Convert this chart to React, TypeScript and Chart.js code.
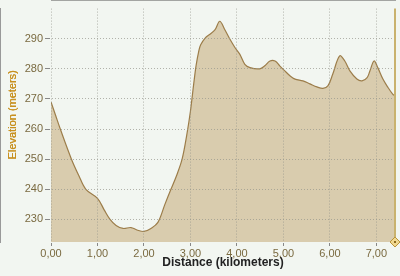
import React, { useEffect, useRef } from "react";
import { Chart, registerables } from "chart.js";

Chart.register(...registerables);

const distances = [
  0.0, 0.1, 0.2, 0.44, 0.6, 0.75, 1.0, 1.15, 1.27, 1.4, 1.55, 1.72, 1.85, 2.0,
  2.15, 2.3, 2.45, 2.58, 2.7, 2.82, 2.92, 3.0, 3.07, 3.12, 3.18, 3.22, 3.32,
  3.42, 3.53, 3.63, 3.74, 3.85, 3.96, 4.06, 4.17, 4.28, 4.49, 4.6, 4.71, 4.82,
  4.92, 5.03, 5.14, 5.25, 5.42, 5.57, 5.72, 5.85, 5.96, 6.06, 6.21, 6.32, 6.43,
  6.58, 6.69, 6.8, 6.86, 6.95, 7.03, 7.14, 7.25, 7.35, 7.4,
];
const elevations = [
  269, 264.5, 260, 250, 244.5, 240, 237, 233, 230, 228, 227, 227.3, 226.5, 226,
  227, 229, 235, 240, 244.5, 250, 258, 266, 275, 281, 286, 288, 290.3, 291.5,
  293, 295.8, 293, 289.8, 287, 284.9, 281.5, 280.4, 280, 281, 282.6, 282.6, 281,
  279.3, 277.7, 276.6, 276, 275, 274, 273.5, 274.4, 278.2, 284.3, 282.6, 279.3,
  276.6, 276, 277.1, 279.3, 282.6, 280.4, 276.6, 273.8, 271.6, 271,
];
const xTicks = [0, 1, 2, 3, 4, 5, 6, 7];
const yTicks = [230, 240, 250, 260, 270, 280, 290];
const xTitle = "Distance (kilometers)";
const yTitle = "Elevation (meters)";

const overlayPlugin = {
  id: "overlay",
  beforeDraw(chart: any) {
    const { ctx, width, height } = chart;
    ctx.save();
    ctx.fillStyle = "#f2f6f1";
    ctx.fillRect(0, 0, width, height);
    ctx.restore();
  },
  afterDraw(chart: any) {
    const { ctx, chartArea } = chart;
    const { left, right, top, bottom } = chartArea;
    ctx.save();
    ctx.strokeStyle = "#c9b26e";
    ctx.lineWidth = 2;
    ctx.beginPath();
    ctx.moveTo(right, top);
    ctx.lineTo(right, bottom);
    ctx.stroke();
    ctx.fillStyle = "#f0d890";
    ctx.strokeStyle = "#b8943a";
    ctx.lineWidth = 1;
    ctx.beginPath();
    ctx.moveTo(right, bottom - 5);
    ctx.lineTo(right + 5, bottom);
    ctx.lineTo(right, bottom + 5);
    ctx.lineTo(right - 5, bottom);
    ctx.closePath();
    ctx.fill();
    ctx.stroke();
    ctx.fillStyle = "#8a6a20";
    ctx.fillRect(right - 1, bottom - 1, 2, 2);
    ctx.fillStyle = "#222";
    ctx.font = "bold 12px 'Liberation Sans', Arial, sans-serif";
    ctx.textAlign = "center";
    ctx.textBaseline = "middle";
    ctx.fillText(xTitle, (left + right) / 2, 263);
    ctx.translate(13, 115);
    ctx.rotate(-Math.PI / 2);
    ctx.fillStyle = "#c8901e";
    ctx.font = "11px 'Liberation Sans', Arial, sans-serif";
    ctx.fillText(yTitle, 0, 0);
    ctx.fillText(yTitle, 0.4, 0);
    ctx.restore();
  },
};

const tickFont = { size: 11, family: "'Liberation Sans', Arial, sans-serif" };

export default function App() {
  const ref = useRef<HTMLCanvasElement | null>(null);
  useEffect(() => {
    document.body.style.margin = "0";
    const canvas = ref.current!;
    const points = distances.map((d, i) => ({ x: d, y: elevations[i] }));
    const chart = new Chart(canvas, {
      type: "line",
      data: {
        datasets: [
          {
            data: points,
            borderColor: "#9c7d4a",
            borderWidth: 1.2,
            backgroundColor: "#d9ccae",
            fill: "start",
            pointRadius: 0,
            tension: 0.35,
          },
        ],
      },
      options: {
        animation: false,
        responsive: false,
        maintainAspectRatio: false,
        layout: { padding: { top: 8, right: 5, left: 0, bottom: 0 } },
        plugins: { legend: { display: false }, tooltip: { enabled: false } },
        scales: {
          x: {
            type: "linear",
            min: 0,
            max: 7.4,
            afterBuildTicks: (s: any) => {
              s.ticks = xTicks.map((v) => ({ value: v }));
            },
            afterFit: (s: any) => {
              s.height = 34;
            },
            grid: {
              color: "rgba(150,150,140,0.7)",
              tickColor: "#888",
              tickLength: 4,
              lineWidth: 1,
              z: 1,
            },
            border: { color: "#555", width: 1, dash: [1, 2] },
            ticks: {
              color: "#7a6a40",
              font: tickFont,
              padding: 1,
              maxRotation: 0,
              callback: (v: any) => Number(v).toFixed(2).replace(".", ","),
            },
          },
          y: {
            min: 222.5,
            max: 300,
            afterBuildTicks: (s: any) => {
              s.ticks = yTicks.map((v) => ({ value: v }));
            },
            afterFit: (s: any) => {
              s.width = 51;
            },
            grid: {
              color: "rgba(150,150,140,0.7)",
              tickColor: "#888",
              tickLength: 6,
              lineWidth: 1,
              z: 1,
            },
            border: { color: "#999", width: 2, dash: [1, 2] },
            ticks: {
              color: "#7a6a40",
              font: tickFont,
              padding: 2,
            },
          },
        },
      },
      plugins: [overlayPlugin],
    });
    return () => chart.destroy();
  }, []);
  return <canvas ref={ref} width={400} height={276} style={{ display: "block" }} />;
}
